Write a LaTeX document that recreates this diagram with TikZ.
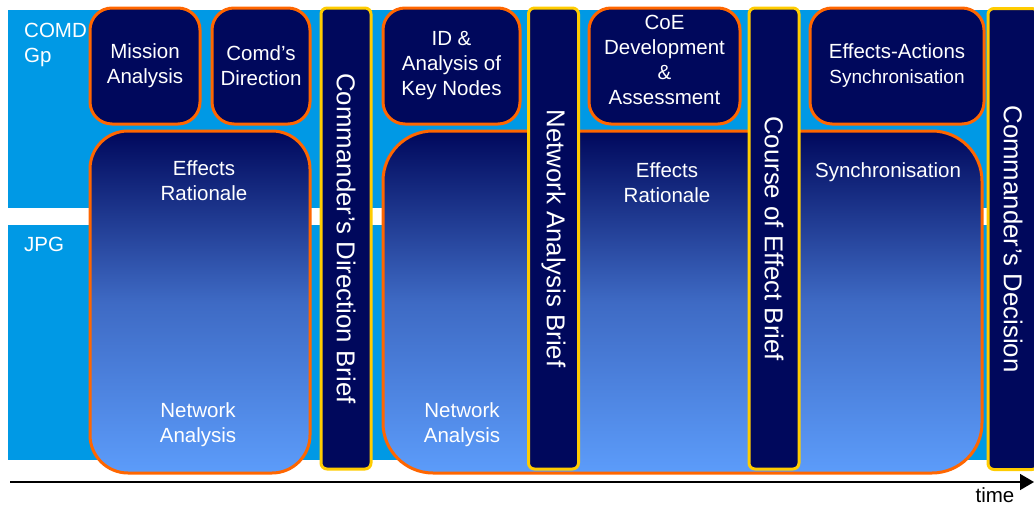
\documentclass[tikz,border=0pt]{standalone}
\usepackage{fontspec}
\setmainfont{Liberation Sans}
\usetikzlibrary{arrows.meta,positioning}
\definecolor{bandblue}{RGB}{0,153,229}
\definecolor{navy}{RGB}{0,8,92}
\definecolor{midblue}{RGB}{62,106,196}
\definecolor{skyblue}{RGB}{92,156,250}
\definecolor{edgeorange}{RGB}{255,102,0}
\definecolor{edgeyellow}{RGB}{255,204,0}
\tikzset{%
    task/.style={%
        rectangle, rounded corners=22pt, draw=edgeorange, line width=3pt, fill=navy,
        text=white, align=center, font=\fontsize{20.5}{25}\selectfont, inner sep=0pt,
        minimum height=116pt
    },
    phase/.style={%
        rectangle, draw=edgeorange, line width=3pt, top color=navy, bottom color=skyblue,
        middle color=midblue, minimum height=342pt, inner sep=0pt
    },
    brief/.style={%
        rectangle, rounded corners=6pt, draw=edgeyellow, line width=3pt, fill=navy,
        text=white, rotate=-90, font=\fontsize{25.8}{30}\selectfont,
        minimum width=461pt, minimum height=50pt, inner sep=0pt
    },
    txt/.style={%
        text=white, align=center, font=\fontsize{20.5}{25}\selectfont, inner sep=0pt
    },
    lane/.style={%
        text=white, align=left, anchor=west, font=\fontsize{20.5}{25}\selectfont, inner sep=0pt
    },
}

\begin{document}
\begin{tikzpicture}[x=1pt,y=-1pt]
  \useasboundingbox (0,0) rectangle (1034,506);
  \clip (0,0) rectangle (1034,506);

  % lanes
  \fill[bandblue] (8,10) rectangle (1034,208);
  \fill[bandblue] (8,225) rectangle (1034,460);
  \node[lane] (comd) at (24,45) {COMD\\Gp};
  \node[lane] (jpg) at (24,244) {JPG};

  % phases
  \node[phase, rounded corners=38pt, minimum width=220pt] (phaseA) at (200,302) {};
  \node[phase, rounded corners=50pt, minimum width=599pt] (phaseB) at (682.5,302) {};

  % tasks
  \node[task, minimum width=110pt] (mission) at (145,66) {Mission\\Analysis};
  \node[task, minimum width=98pt] (direction) at (261,66) {Comd’s\\Direction};
  \node[task, minimum width=137pt] (keynodes) at (451.5,66) {ID \&\\Analysis of\\Key Nodes};
  \node[task, minimum width=151pt] (coe) at (664.5,66) {};
  \node[txt] (coetxt) at (664.5,60) {CoE\\Development\\\&\\Assessment};
  \node[task, minimum width=174pt] (effact) at (897,66) {Effects-Actions\\{\fontsize{19}{23}\selectfont Synchronisation}};

  \node[txt] (ratA) at (204,181) {Effects\\Rationale};
  \node[txt] (netA) at (198,425) {Network\\Analysis};
  \node[txt] (ratB) at (667,183) {Effects\\Rationale};
  \node[txt] (netB) at (462,425) {Network\\Analysis};
  \node[txt] (syncB) at (888,172) {Synchronisation};

  % briefs
  \node[brief] (cdbrief) at (346,238.5) {Commander’s Direction Brief};
  \node[brief] (nabrief) at (553.5,238.5) {Network Analysis Brief};
  \node[brief] (cebrief) at (774,238.5) {Course of Effect Brief};
  \node[brief] (decision) at (1013,239) {Commander’s Decision};

  % time axis
  \coordinate (tstart) at (10,482);
  \coordinate (tend) at (1034,482);
  \draw[line width=1.5pt, -{Triangle[length=14pt,width=16pt]}] (tstart) -- (tend);
  \node[font=\fontsize{20.5}{25}\selectfont, inner sep=0pt] (time) at (995,495.5) {time};
\end{tikzpicture}
\end{document}
